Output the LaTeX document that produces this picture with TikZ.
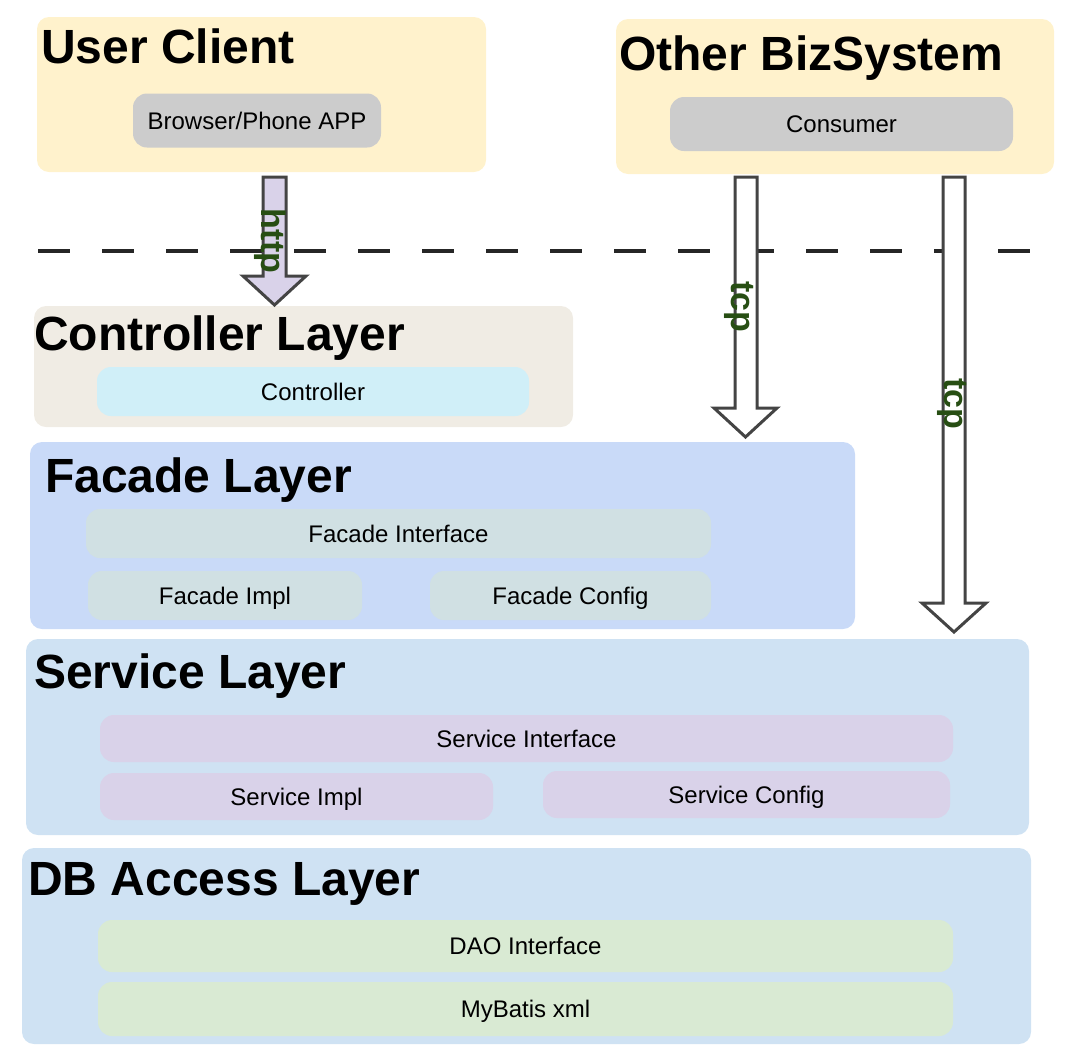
\documentclass[tikz,border=0pt]{standalone}
\usepackage{fontspec}
\setmainfont{Liberation Sans}

\definecolor{clientyellow}{HTML}{FFF2CC}
\definecolor{appgray}{HTML}{CCCCCC}
\definecolor{ctrlbeige}{HTML}{F0ECE4}
\definecolor{ctrlcyan}{HTML}{D0EFF8}
\definecolor{facadeblue}{HTML}{C9DAF8}
\definecolor{facadepart}{HTML}{D0E0E3}
\definecolor{layerblue}{HTML}{CFE2F3}
\definecolor{servicepart}{HTML}{D9D2E9}
\definecolor{daopart}{HTML}{D9EAD3}
\definecolor{protogreen}{HTML}{274E13}
\definecolor{pipegray}{HTML}{444444}

\tikzset{
  layertitle/.style={anchor=base west, inner sep=0pt, font=\fontsize{48}{50}\selectfont\bfseries},
  part/.style={rounded corners=14pt, inner sep=0pt, text depth=0pt, text height=17.2pt,
    font=\fontsize{24}{26}\selectfont},
  proto/.style={text=protogreen, rotate=-90, inner sep=0pt, font=\fontsize{34}{36}\selectfont\bfseries},
  pipe/.style={draw=pipegray, line width=3pt, line join=miter},
}

\begin{document}
\begin{tikzpicture}[x=1pt, y=-1pt]
\useasboundingbox (0,0) rectangle (1084,1058);

\fill[clientyellow, rounded corners=12pt] (37,17) rectangle (486,172);
\fill[clientyellow, rounded corners=12pt] (616,19) rectangle (1054,174);
\fill[ctrlbeige, rounded corners=12pt] (34,306) rectangle (573,427);
\fill[facadeblue, rounded corners=12pt] (30,442) rectangle (855,629);
\fill[layerblue, rounded corners=12pt] (26,639) rectangle (1029,835);
\fill[layerblue, rounded corners=12pt] (22,848) rectangle (1031,1044);

\node[layertitle] (client) at (41,63) {User Client};
\node[layertitle] (biz) at (619,70) {Other BizSystem};
\node[layertitle] (ctrllayer) at (34,350) {Controller Layer};
\node[layertitle] (facadelayer) at (45,492) {Facade Layer};
\node[layertitle] (servicelayer) at (34,688) {Service Layer};
\node[layertitle] (dblayer) at (28,895) {DB Access Layer};

\node[part, fill=appgray, minimum width=248, minimum height=54] (app) at (257,120.5) {Browser/Phone APP};
\node[part, fill=appgray, minimum width=343, minimum height=54] (consumer) at (841.5,124) {Consumer};

\node[part, fill=ctrlcyan, minimum width=432, minimum height=49] (ctrl) at (313,391.5) {Controller};

\node[part, fill=facadepart, minimum width=625, minimum height=49] (facint) at (398.5,533.5) {Facade Interface};
\node[part, fill=facadepart, minimum width=274, minimum height=49] (facimpl) at (225,595.5) {Facade Impl};
\node[part, fill=facadepart, minimum width=281, minimum height=49] (faccfg) at (570.5,595.5) {Facade Config};

\node[part, fill=servicepart, minimum width=853, minimum height=47] (svcint) at (526.5,738.5) {Service Interface};
\node[part, fill=servicepart, minimum width=393, minimum height=47] (svcimpl) at (296.5,796.5) {Service Impl};
\node[part, fill=servicepart, minimum width=407, minimum height=47] (svccfg) at (746.5,794.5) {Service Config};

\node[part, fill=daopart, minimum width=855, minimum height=52] (dao) at (525.5,946) {DAO Interface};
\node[part, fill=daopart, minimum width=855, minimum height=54] (mybatis) at (525.5,1009) {MyBatis xml};

% boundary line
\draw[black!85, line width=3.5pt, dash pattern=on 32pt off 32pt] (38,251) -- (1030,251);

% block arrows
\draw[pipe, fill=servicepart] (263,177) -- (263,276) -- (243,276) -- (274.5,305) -- (306,276) -- (286,276) -- (286,177) -- cycle;
\draw[pipe, fill=white] (735,177) -- (735,408) -- (714,408) -- (745.5,437) -- (777,408) -- (757,408) -- (757,177) -- cycle;
\draw[pipe, fill=white] (943,177) -- (943,603) -- (922,603) -- (954,632) -- (986,603) -- (965,603) -- (965,177) -- cycle;

\node[proto] (http) at (270,241) {http};
\node[proto] (tcpfacade) at (739,307) {tcp};
\node[proto] (tcpservice) at (952,404) {tcp};

\end{tikzpicture}
\end{document}
